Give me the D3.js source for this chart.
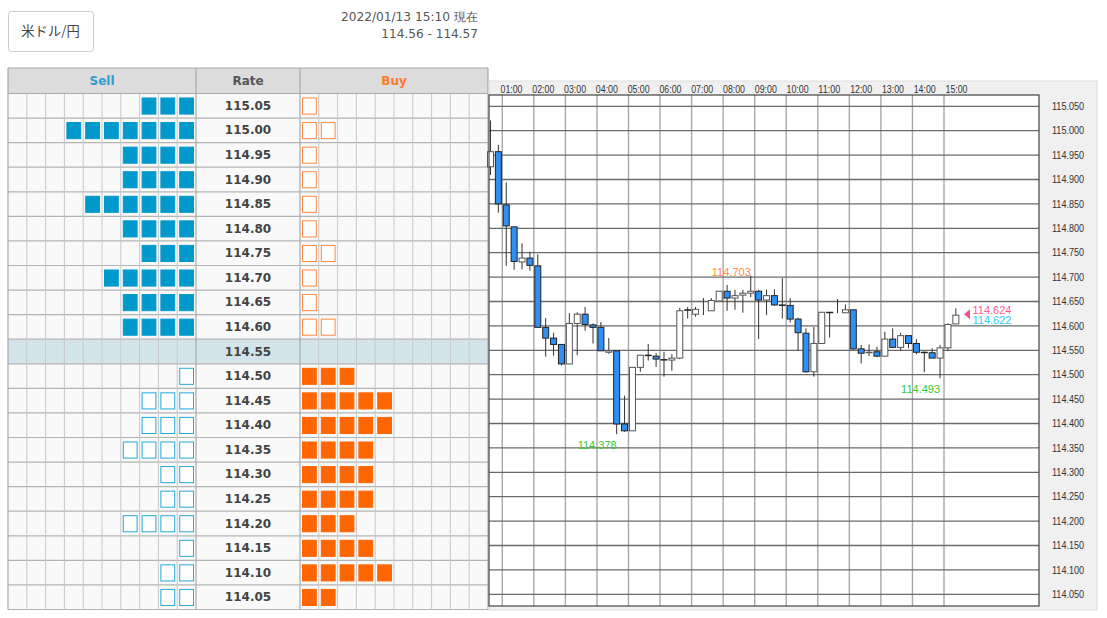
<!DOCTYPE html>
<html>
<head>
<meta charset="utf-8">
<script src="https://cdn.jsdelivr.net/npm/d3@7"></script>
<style>
    html, body { margin: 0; padding: 0; background: #fff; }
    svg { display: block; }
    text { font-family: "DejaVu Sans", sans-serif; }
</style>
</head>
<body>
<svg id="chart" width="1107" height="618"></svg>
<script>
// order book, top row first
var rates = ["115.05", "115.00", "114.95", "114.90", "114.85", "114.80", "114.75", "114.70", "114.65", "114.60", "114.55",
    "114.50", "114.45", "114.40", "114.35", "114.30", "114.25", "114.20", "114.15", "114.10", "114.05"];
var sellCounts = [3, 7, 4, 4, 6, 4, 3, 5, 4, 4, 0, 1, 3, 3, 4, 2, 2, 4, 1, 2, 2];
var buyCounts = [1, 2, 1, 1, 1, 1, 2, 1, 1, 2, 0, 3, 5, 5, 4, 4, 4, 3, 4, 5, 2];
var currentRate = "114.55";

// 15 minute candles, first one starts at 00:30
var opens = [114.926, 114.957, 114.848, 114.803, 114.731, 114.739, 114.723, 114.597, 114.575, 114.562,
    114.522, 114.605, 114.624, 114.602, 114.597, 114.546, 114.549, 114.399, 114.385, 114.515,
    114.540, 114.538, 114.531, 114.530, 114.534, 114.633, 114.624, 114.633, 114.631, 114.651,
    114.671, 114.657, 114.663, 114.667, 114.671, 114.653, 114.662, 114.643, 114.642, 114.614,
    114.585, 114.506, 114.564, 114.628, 114.627, 114.627, 114.633, 114.553, 114.545, 114.547,
    114.538, 114.573, 114.556, 114.580, 114.564, 114.546, 114.545, 114.534, 114.555, 114.604];
var highs = [115.021, 114.971, 114.894, 114.803, 114.769, 114.752, 114.747, 114.616, 114.586, 114.562,
    114.626, 114.628, 114.639, 114.605, 114.608, 114.575, 114.549, 114.457, 114.515, 114.540,
    114.563, 114.544, 114.547, 114.542, 114.637, 114.639, 114.639, 114.657, 114.657, 114.671,
    114.684, 114.674, 114.674, 114.703, 114.674, 114.674, 114.675, 114.698, 114.657, 114.617,
    114.595, 114.598, 114.628, 114.628, 114.655, 114.644, 114.633, 114.561, 114.562, 114.557,
    114.588, 114.595, 114.586, 114.580, 114.573, 114.548, 114.554, 114.561, 114.605, 114.636];
var lows = [114.909, 114.832, 114.723, 114.715, 114.716, 114.713, 114.597, 114.537, 114.539, 114.519,
    114.522, 114.540, 114.590, 114.564, 114.549, 114.543, 114.378, 114.383, 114.385, 114.506,
    114.529, 114.516, 114.496, 114.508, 114.532, 114.615, 114.619, 114.622, 114.631, 114.651,
    114.631, 114.633, 114.627, 114.659, 114.573, 114.622, 114.641, 114.615, 114.607, 114.549,
    114.504, 114.496, 114.564, 114.576, 114.626, 114.627, 114.551, 114.523, 114.538, 114.536,
    114.538, 114.555, 114.549, 114.554, 114.542, 114.505, 114.534, 114.493, 114.549, 114.604];
var closes = [114.957, 114.850, 114.805, 114.732, 114.739, 114.724, 114.597, 114.575, 114.562, 114.522,
    114.605, 114.624, 114.603, 114.597, 114.549, 114.549, 114.399, 114.385, 114.515, 114.540,
    114.539, 114.532, 114.530, 114.534, 114.631, 114.632, 114.634, 114.633, 114.652, 114.671,
    114.657, 114.662, 114.667, 114.671, 114.653, 114.662, 114.643, 114.642, 114.614, 114.586,
    114.506, 114.564, 114.628, 114.627, 114.627, 114.633, 114.553, 114.544, 114.546, 114.538,
    114.573, 114.556, 114.580, 114.564, 114.546, 114.545, 114.534, 114.555, 114.603, 114.622];

var hourLabels = ["01:00", "02:00", "03:00", "04:00", "05:00", "06:00", "07:00", "08:00", "09:00", "10:00", "11:00", "12:00", "13:00", "14:00", "15:00"];
var priceTicks = [115.05, 115.00, 114.95, 114.90, 114.85, 114.80, 114.75, 114.70, 114.65, 114.60, 114.55,
    114.50, 114.45, 114.40, 114.35, 114.30, 114.25, 114.20, 114.15, 114.10, 114.05];
var highMark = { candle: 33, value: 114.703 };
var lowMarks = [{ candle: 16, value: 114.378 }, { candle: 57, value: 114.493 }];
var askNow = 114.624;
var bidNow = 114.622;

var svg = d3.select("#chart");

// top left pair button and the time stamp
svg.append("rect").attr("x", 8.5).attr("y", 11.5).attr("width", 85).attr("height", 40).attr("rx", 3)
    .attr("fill", "#fff").attr("stroke", "#ccc");
svg.append("text").attr("x", 50.5).attr("y", 36).attr("text-anchor", "middle")
    .style("font-family", "'Noto Sans CJK JP'").style("font-size", "13.3px").attr("fill", "#444").text("米ドル/円");
svg.append("text").attr("x", 478).attr("y", 21).attr("text-anchor", "end")
    .style("font-size", "12.2px").attr("fill", "#555").text("2022/01/13 15:10 現在");
svg.append("text").attr("x", 478).attr("y", 38).attr("text-anchor", "end")
    .style("font-size", "12.1px").attr("fill", "#555").text("114.56 - 114.57");

drawBook();
drawCandles();

function drawBook() {
    var left = 8, right = 488, top = 68, headerBottom = 93.5, bottom = 609.5;
    var sellEnd = 196, buyStart = 300;
    var row = d3.scaleBand().domain(rates).range([headerBottom, bottom]);
    var cols = d3.range(10);
    var sellX = d3.scaleBand().domain(cols).range([left, sellEnd]);
    var buyX = d3.scaleBand().domain(cols).range([buyStart, right]);

    var g = svg.append("g");
    g.append("rect").attr("x", left).attr("y", top).attr("width", right - left).attr("height", headerBottom - top).attr("fill", "#dcdcdc");
    g.selectAll(".rowbg").data(rates).enter().append("rect").attr("class", "rowbg")
        .attr("x", left).attr("width", right - left)
        .attr("y", function (d) { return row(d); }).attr("height", row.bandwidth())
        .attr("fill", function (d) { return d === currentRate ? "#d2e4ea" : "#f9f9f9"; });

    // grid
    var lineColor = "#b4b4b4";
    g.selectAll(".hline").data(rates).enter().append("line")
        .attr("x1", left).attr("x2", right)
        .attr("y1", function (d) { return row(d) + row.bandwidth(); })
        .attr("y2", function (d) { return row(d) + row.bandwidth(); })
        .attr("stroke", lineColor).attr("stroke-width", 1.2);
    g.selectAll(".sellv").data(cols.slice(1)).enter().append("line")
        .attr("x1", function (d) { return sellX(d); }).attr("x2", function (d) { return sellX(d); })
        .attr("y1", headerBottom).attr("y2", bottom).attr("stroke", "#c8c8c8");
    g.selectAll(".buyv").data(cols.slice(1)).enter().append("line")
        .attr("x1", function (d) { return buyX(d); }).attr("x2", function (d) { return buyX(d); })
        .attr("y1", headerBottom).attr("y2", bottom).attr("stroke", "#c8c8c8");
    [left, sellEnd, buyStart, right].forEach(function (x) {
        g.append("line").attr("x1", x).attr("x2", x).attr("y1", top).attr("y2", bottom).attr("stroke", "#aaa").attr("stroke-width", 1.2);
    });
    g.append("line").attr("x1", left).attr("x2", right).attr("y1", top).attr("y2", top).attr("stroke", "#aaa").attr("stroke-width", 1.2);
    g.append("line").attr("x1", left).attr("x2", right).attr("y1", headerBottom).attr("y2", headerBottom).attr("stroke", "#aaa").attr("stroke-width", 1.2);

    // headers
    var headers = [["Sell", (left + sellEnd) / 2, "#2a9fd0"], ["Rate", (sellEnd + buyStart) / 2, "#555"], ["Buy", (buyStart + right) / 2, "#ff7a2a"]];
    headers.forEach(function (h) {
        g.append("text").attr("x", h[1]).attr("y", 85).attr("text-anchor", "middle")
            .style("font-size", "12px").style("font-weight", "bold").attr("fill", h[2]).text(h[0]);
    });

    g.selectAll(".rate").data(rates).enter().append("text")
        .attr("x", (sellEnd + buyStart) / 2)
        .attr("y", function (d) { return row(d) + row.bandwidth() / 2 + 4; })
        .attr("text-anchor", "middle").style("font-size", "12px").style("font-weight", "bold")
        .attr("fill", "#444").text(function (d) { return d; });

    // squares: solid for orders above the current rate on the sell side, below it on the buy side
    var currentIndex = rates.indexOf(currentRate);
    rates.forEach(function (rate, i) {
        var y = row(rate) + 4;
        var h = row.bandwidth() - 7.5;
        d3.range(sellCounts[i]).forEach(function (n) {
            var solid = i < currentIndex;
            g.append("rect").attr("x", sellX(9 - n) + 2.5).attr("y", y + 0.5)
                .attr("width", sellX.bandwidth() - 5).attr("height", h - 1)
                .attr("fill", solid ? "#0099cc" : "#fff").attr("stroke", solid ? "#0099cc" : "#25a9d9").attr("stroke-width", 1);
        });
        d3.range(buyCounts[i]).forEach(function (n) {
            var solid = i > currentIndex;
            g.append("rect").attr("x", buyX(n) + 2.5).attr("y", y + 0.5)
                .attr("width", buyX.bandwidth() - 5).attr("height", h - 1)
                .attr("fill", solid ? "#ff6600" : "#fff").attr("stroke", solid ? "#ff6600" : "#ff8a40").attr("stroke-width", 1);
        });
    });
}

function drawCandles() {
    var panelLeft = 489, panelRight = 1097, panelTop = 81, panelBottom = 610;
    var plotLeft = 489, plotRight = 1039, plotTop = 95, plotBottom = 606;
    var hourValues = d3.range(1, hourLabels.length + 1);

    // price to pixel: 115.05 sits at 106.3, 114.05 at 594.3
    var y = d3.scaleLinear().domain([115.05, 114.05]).range([106.3, 594.3]);
    var x = d3.scaleLinear().domain([1, 15]).range([502.3, 944]);
    // hour labels drift a little from their grid lines in the original
    var labelX = d3.scaleLinear().domain([1, 15]).range([500, 945]);
    function candleX(i) {
        return x(0.5 + i * 0.25 + 0.125);
    }

    var g = svg.append("g");
    g.append("rect").attr("x", panelLeft).attr("y", panelTop).attr("width", panelRight - panelLeft).attr("height", panelBottom - panelTop)
        .attr("fill", "#f0f0f0").attr("stroke", "#ddd");
    g.append("rect").attr("x", plotLeft).attr("y", plotTop).attr("width", plotRight - plotLeft).attr("height", plotBottom - plotTop).attr("fill", "#fff");

    // grid
    g.selectAll(".vgrid").data(hourValues).enter().append("line")
        .attr("x1", function (d) { return x(d); }).attr("x2", function (d) { return x(d); })
        .attr("y1", plotTop).attr("y2", plotBottom).attr("stroke", "#a8a8a8").attr("stroke-width", 1.4);
    g.selectAll(".hgrid").data(priceTicks).enter().append("line")
        .attr("x1", plotLeft).attr("x2", plotRight)
        .attr("y1", function (d) { return y(d); }).attr("y2", function (d) { return y(d); })
        .attr("stroke", "#6a6a6a").attr("stroke-width", 1.3);

    // candles
    var idx = d3.range(opens.length);
    var candle = g.selectAll(".candle").data(idx).enter().append("g");
    candle.append("line")
        .attr("x1", function (i) { return candleX(i); }).attr("x2", function (i) { return candleX(i); })
        .attr("y1", function (i) { return y(highs[i]); }).attr("y2", function (i) { return y(lows[i]); })
        .attr("stroke", "#333").attr("stroke-width", 1);
    candle.append("rect")
        .attr("x", function (i) { return candleX(i) - 3; }).attr("width", 6)
        .attr("y", function (i) { return y(Math.max(opens[i], closes[i])); })
        .attr("height", function (i) { return Math.abs(y(opens[i]) - y(closes[i])); })
        .attr("fill", function (i) { return closes[i] < opens[i] ? "#2e90f5" : "#fff"; })
        .attr("stroke", function (i) { return closes[i] < opens[i] ? "#222" : "#555"; })
        .attr("stroke-width", 1);

    // plot border
    g.append("rect").attr("x", plotLeft).attr("y", plotTop).attr("width", plotRight - plotLeft).attr("height", plotBottom - plotTop)
        .attr("fill", "none").attr("stroke", "#444").attr("stroke-width", 1.2);

    // axes
    var priceAxis = d3.axisRight(y).tickValues(priceTicks).tickSize(0).tickPadding(0).tickFormat(d3.format(".3f"));
    var pa = g.append("g").attr("transform", "translate(1052,0)").call(priceAxis);
    pa.select(".domain").remove();
    pa.selectAll("text").style("font-family", "'Liberation Sans'").style("font-size", "10px").attr("fill", "#333")
        .attr("textLength", 32).attr("lengthAdjust", "spacingAndGlyphs");

    var timeAxis = d3.axisTop(labelX).tickValues(hourValues).tickSize(0).tickPadding(0)
        .tickFormat(function (d) { return hourLabels[d - 1]; });
    var ta = g.append("g").attr("transform", "translate(0,92.5)").call(timeAxis);
    ta.select(".domain").remove();
    ta.selectAll("text").attr("text-anchor", "start").style("font-family", "'Liberation Sans'").style("font-size", "10px").attr("fill", "#333")
        .attr("textLength", 22).attr("lengthAdjust", "spacingAndGlyphs");

    // high / low labels
    function mark(text, xPos, yPos, color, anchor) {
        g.append("text").attr("x", xPos).attr("y", yPos).attr("text-anchor", anchor)
            .style("font-family", "'Liberation Sans'").style("font-size", "11px").attr("fill", color).text(text);
    }
    mark(highMark.value.toFixed(3), candleX(highMark.candle), y(highMark.value), "#ff8c42", "end");
    lowMarks.forEach(function (m) {
        mark(m.value.toFixed(3), candleX(m.candle), y(m.value) + 14.5, "#33cc33", "end");
    });

    // current price marker
    var lastY = y(askNow);
    g.append("path").attr("d", d3.line()([[964, lastY], [970, lastY - 5], [970, lastY + 5]]) + "Z").attr("fill", "#f0508f");
    mark(askNow.toFixed(3), 972.5, lastY, "#ff5c8a", "start");
    mark(bidNow.toFixed(3), 972.5, lastY + 10, "#33ccff", "start");
}
</script>
</body>
</html>
